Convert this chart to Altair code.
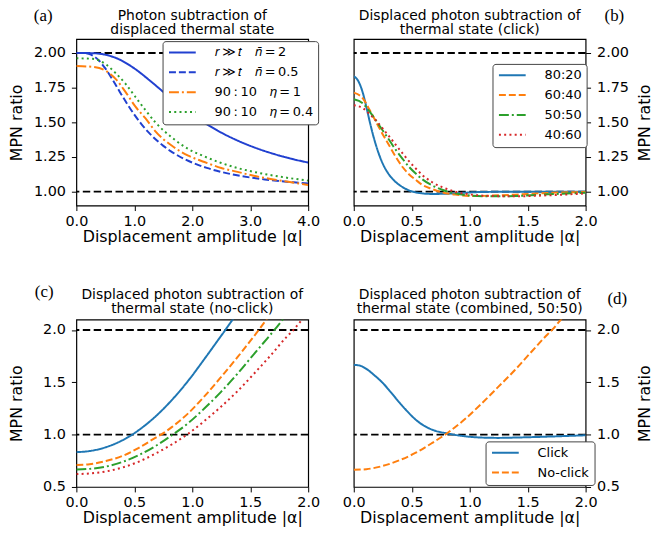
import altair as alt
import pandas as pd

FONT = "DejaVu Sans"
XTITLE = "Displacement amplitude |α|"
YTITLE = "MPN ratio"
TS = "\u2009"   # thin space
QS = "\u2003"   # em space

# ---------------- data ----------------
ref_levels = [1.0, 2.0]

# (a) photon subtraction of displaced thermal state
a_title = ["Photon subtraction of", "displaced thermal state"]
a_labels = [f"𝑟{TS}≫{TS}𝑡{QS}𝑛̄{TS}={TS}2", f"𝑟{TS}≫{TS}𝑡{QS}𝑛̄{TS}={TS}0.5",
            f"90{TS}:{TS}10{QS}𝜂{TS}={TS}1", f"90{TS}:{TS}10{QS}𝜂{TS}={TS}0.4"]
a_colors = ["#2140d0", "#2140d0", "#ff7f0e", "#2ca02c"]
a_x1 = [0, 0.25, 0.5, 0.75, 1.0, 1.25, 1.5, 1.75, 2.0, 2.25, 2.5, 2.75, 3.0, 3.25, 3.5, 3.75, 4.0]
a_y1 = [2.0, 1.9991, 1.9877, 1.9518, 1.8889, 1.8076, 1.7197, 1.6340, 1.5556, 1.4862, 1.4261,
        1.3746, 1.3306, 1.2931, 1.2610, 1.2335, 1.2099]
a_x2 = [0, 0.125, 0.25, 0.375, 0.5, 0.625, 0.75, 0.875, 1.0, 1.125, 1.25, 1.375, 1.5, 1.625,
        1.75, 1.875, 2.0, 2.25, 2.5, 2.75, 3.0, 3.25, 3.5, 3.75, 4.0]
a_y2 = [2.0, 1.9991, 1.9877, 1.9518, 1.8889, 1.8076, 1.7197, 1.6340, 1.5556, 1.4862, 1.4261,
        1.3746, 1.3306, 1.2931, 1.2610, 1.2335, 1.2099, 1.1717, 1.1427, 1.1202, 1.1025, 1.0884,
        1.0769, 1.0675, 1.0597]
a_x3 = [0, 0.28, 0.51, 0.68, 0.85, 1.02, 1.19, 1.36, 1.65, 1.93, 2.21, 2.5, 2.78, 3.06, 3.35, 3.63, 4.0]
a_y3 = [1.906, 1.900, 1.871, 1.812, 1.718, 1.613, 1.530, 1.437, 1.331, 1.260, 1.214, 1.171,
        1.143, 1.115, 1.092, 1.073, 1.049]
a_y4 = [1.962, 1.958, 1.918, 1.854, 1.777, 1.683, 1.589, 1.502, 1.390, 1.308, 1.254, 1.207,
        1.171, 1.143, 1.120, 1.101, 1.080]

# (b) click
b_title = ["Displaced photon subtraction of", "thermal state (click)"]
b_labels = ["80:20", "60:40", "50:50", "40:60"]
tab_colors = ["#1f77b4", "#ff7f0e", "#2ca02c", "#d62728"]
b_x1 = [0, 0.023, 0.051, 0.08, 0.108, 0.137, 0.165, 0.193, 0.25, 0.307, 0.364, 0.421, 0.478,
        0.563, 0.677, 0.819, 0.962, 1.104, 1.4, 2.0]
b_y1 = [1.831, 1.817, 1.777, 1.707, 1.613, 1.507, 1.413, 1.331, 1.202, 1.120, 1.068, 1.033,
        1.009, 0.991, 0.984, 0.986, 0.993, 0.998, 1.0, 1.0]
b_x = [0, 0.08, 0.137, 0.193, 0.25, 0.307, 0.364, 0.421, 0.478, 0.535, 0.592, 0.677, 0.762,
       0.876, 1.018, 1.189, 1.388, 1.673, 2.0]
b_y2 = [1.714, 1.671, 1.589, 1.502, 1.413, 1.331, 1.249, 1.178, 1.124, 1.085, 1.049, 1.019,
        0.995, 0.979, 0.969, 0.972, 0.979, 0.991, 0.998]
b_y3 = [1.667, 1.636, 1.577, 1.512, 1.441, 1.371, 1.300, 1.237, 1.178, 1.131, 1.089, 1.045,
        1.014, 0.988, 0.972, 0.967, 0.969, 0.981, 0.993]
b_y4 = [1.624, 1.601, 1.559, 1.512, 1.455, 1.397, 1.336, 1.277, 1.218, 1.167, 1.120, 1.068,
        1.033, 1.000, 0.979, 0.969, 0.967, 0.974, 0.988]

# (c) no-click
c_title = ["Displaced photon subtraction of", "thermal state (no-click)"]
c_x1 = [0, 0.113, 0.255, 0.397, 0.482, 0.539, 0.681, 0.823, 0.965, 1.106, 1.22, 1.285, 1.342, 1.40]
c_y1 = [0.833, 0.843, 0.880, 0.946, 1.0, 1.044, 1.172, 1.330, 1.515, 1.725, 1.900, 2.0, 2.09, 2.18]
c_x2 = [0, 0.113, 0.255, 0.397, 0.539, 0.681, 0.73, 0.823, 0.965, 1.106, 1.248, 1.39, 1.504, 1.58, 1.64, 1.70]
c_y2 = [0.711, 0.717, 0.748, 0.796, 0.874, 0.969, 1.0, 1.072, 1.204, 1.368, 1.550, 1.740, 1.900,
        2.01, 2.10, 2.19]
c_x3 = [0, 0.113, 0.255, 0.397, 0.539, 0.681, 0.823, 0.965, 1.106, 1.248, 1.39, 1.532, 1.674,
        1.716, 1.787, 1.85]
c_y3 = [0.667, 0.673, 0.695, 0.739, 0.805, 0.890, 0.994, 1.110, 1.252, 1.409, 1.582, 1.770,
        1.955, 2.01, 2.11, 2.20]
c_x4 = [0, 0.113, 0.255, 0.397, 0.539, 0.681, 0.823, 0.965, 1.106, 1.248, 1.39, 1.532, 1.674,
        1.816, 1.872, 1.929, 2.0]
c_y4 = [0.623, 0.629, 0.648, 0.686, 0.742, 0.818, 0.906, 1.009, 1.132, 1.267, 1.415, 1.582,
        1.755, 1.937, 2.0, 2.075, 2.17]

# (d) combined 50:50
d_title = ["Displaced photon subtraction of", "thermal state (combined, 50:50)"]
d_labels = ["Click", "No-click"]
d_x1 = [0, 0.051, 0.108, 0.179, 0.25, 0.321, 0.393, 0.464, 0.535, 0.606, 0.677, 0.819, 0.962,
        1.104, 1.246, 1.388, 1.673, 2.0]
d_y1 = [1.667, 1.660, 1.629, 1.566, 1.494, 1.403, 1.308, 1.220, 1.142, 1.085, 1.047, 1.009,
        0.984, 0.972, 0.969, 0.972, 0.981, 0.994]
d_x2 = [0, 0.108, 0.25, 0.393, 0.535, 0.677, 0.819, 0.962, 1.104, 1.246, 1.388, 1.531, 1.673,
        1.71, 1.772, 1.83]
d_y2 = [0.664, 0.670, 0.701, 0.755, 0.827, 0.921, 1.025, 1.151, 1.299, 1.456, 1.615, 1.790,
        1.960, 2.0, 2.08, 2.16]

SOLID = [1, 0]
DASHED = [7, 3]
DASHDOT = [10, 3, 2, 3]
DOTTED = [2, 3.3]

W = 234


def frame(series):
    rows = []
    for xs, ys, lab in series:
        for xv, yv in zip(xs, ys):
            rows.append({"x": xv, "y": yv, "s": lab})
    return pd.DataFrame(rows)


def text_layer(txt, x, y, font, size, baseline="alphabetic"):
    return alt.Chart(pd.DataFrame({"t": [txt]})).mark_text(
        font=font, fontSize=size, align="center", baseline=baseline, color="black"
    ).encode(text="t:N", x=alt.value(x), y=alt.value(y))


def panel(df, labels, colors, dashes, xdom, xticks, xfmt, ydom, yticks, yfmt,
          title, title_y, tag, tag_xy, yorient, ytp, legend_xy, height):
    xenc = alt.X("x:Q", scale=alt.Scale(domain=xdom, nice=False, zero=False),
                 axis=alt.Axis(values=xticks, format=xfmt, title=XTITLE))
    if yorient == "left":
        yaxis = alt.Axis(values=yticks, format=yfmt, title=YTITLE, orient="left",
                         titlePadding=ytp, labelPadding=6)
    else:
        yaxis = alt.Axis(values=yticks, format=yfmt, title=YTITLE, orient="right",
                         titleAngle=270, titleBaseline="top", titlePadding=ytp, labelPadding=6)
    yscale = alt.Scale(domain=ydom, nice=False, zero=False)
    yenc = alt.Y("y:Q", scale=yscale, axis=yaxis)

    rules = alt.Chart(pd.DataFrame({"y": ref_levels})).mark_rule(
        color="black", strokeDash=[7.5, 3.5], strokeWidth=1.8
    ).encode(y=yenc)

    if legend_xy is None:
        leg = None
    else:
        leg = alt.Legend(title=None, orient="none", legendX=legend_xy[0], legendY=legend_xy[1],
                         symbolType="M-2.7,0H2.7", symbolSize=100, symbolStrokeWidth=2,
                         symbolOffset=8.5, labelOffset=26,
                         labelFont=FONT, labelFontSize=13, labelColor="black",
                         rowPadding=6, padding=5, fillColor="white",
                         strokeColor="#444444", cornerRadius=3, labelLimit=300)
    lines = alt.Chart(df).mark_line(clip=True, strokeWidth=2, interpolate="monotone").encode(
        x=xenc, y=yenc,
        color=alt.Color("s:N", scale=alt.Scale(domain=labels, range=colors), sort=labels, legend=leg),
        strokeDash=alt.StrokeDash("s:N", scale=alt.Scale(domain=labels, range=dashes), sort=labels, legend=leg),
    )
    t1 = text_layer(title[0], W / 2, title_y, FONT, 14)
    t2 = text_layer(title[1], W / 2, title_y + 14.5, FONT, 14)
    tagc = text_layer(tag, tag_xy[0], tag_xy[1], "Liberation Serif", 17, baseline="middle")

    return alt.layer(rules, lines, t1, t2, tagc).properties(width=W, height=height)


pa = panel(frame([(a_x1, a_y1, a_labels[0]), (a_x2, a_y2, a_labels[1]),
                  (a_x3, a_y3, a_labels[2]), (a_x3, a_y4, a_labels[3])]),
           a_labels, a_colors, [SOLID, DASHED, DASHDOT, DOTTED],
           [0, 4], [0, 1, 2, 3, 4], ".1f", [0.9, 2.1], [1.0, 1.25, 1.5, 1.75, 2.0], ".2f",
           a_title, -19.5, "(a)", (-33.5, -23), "left", 8.7, (87, 2), 168)

pb = panel(frame([(b_x1, b_y1, b_labels[0]), (b_x, b_y2, b_labels[1]),
                  (b_x, b_y3, b_labels[2]), (b_x, b_y4, b_labels[3])]),
           b_labels, tab_colors, [SOLID, DASHED, DASHDOT, DOTTED],
           [0, 2], [0, 0.5, 1.0, 1.5, 2.0], ".1f", [0.9, 2.1], [1.0, 1.25, 1.5, 1.75, 2.0], ".2f",
           b_title, -19.5, "(b)", (263, -23), "right", 8, (140, 25), 168)

pc = panel(frame([(c_x1, c_y1, b_labels[0]), (c_x2, c_y2, b_labels[1]),
                  (c_x3, c_y3, b_labels[2]), (c_x4, c_y4, b_labels[3])]),
           b_labels, tab_colors, [SOLID, DASHED, DASHDOT, DOTTED],
           [0, 2], [0, 0.5, 1.0, 1.5, 2.0], ".1f", [0.5, 2.1], [0.5, 1.0, 1.5, 2.0], ".1f",
           c_title, -21, "(c)", (-32.5, -28), "left", 17.9, None, 169)

pd_ = panel(frame([(d_x1, d_y1, d_labels[0]), (d_x2, d_y2, d_labels[1])]),
            d_labels, tab_colors[:2], [SOLID, DASHED],
            [0, 2], [0, 0.5, 1.0, 1.5, 2.0], ".1f", [0.5, 2.1], [0.5, 1.0, 1.5, 2.0], ".1f",
            d_title, -21, "(d)", (266, -20.5), "right", 17.3, (133, 123), 169)

chart = alt.concat(
    pa, pb, pc, pd_, columns=2, spacing={"row": 115, "column": 46}, bounds="flush",
    padding={"top": -4, "left": 0, "right": 0, "bottom": 0}
).resolve_scale(
    color="independent", strokeDash="independent"
).configure(font=FONT).configure_view(
    stroke="black", strokeWidth=1.2
).configure_axis(
    grid=False, domain=False, tickColor="black", tickSize=5, tickWidth=1,
    labelColor="black", labelFont=FONT, labelFontSize=14.5, labelFlush=False, labelOverlap=False,
    titleFont=FONT, titleFontSize=16, titleFontWeight="normal", titleColor="black",
).configure_axisX(labelPadding=4, titlePadding=0.5)

chart.save("out.html", embed_options={"renderer": "svg", "actions": False})
